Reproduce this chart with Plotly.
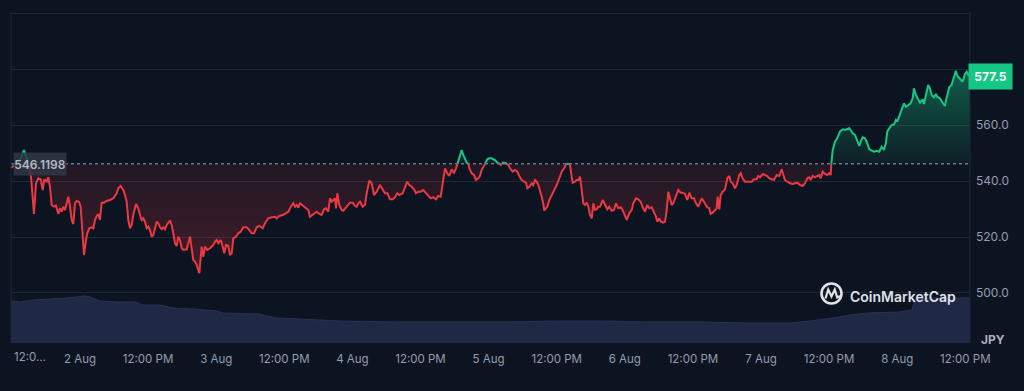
import numpy as np
import pandas as pd
import plotly.graph_objects as go

# ---------------- data ----------------
BASELINE = 546.1198
LAST_PRICE = 577.5
START = pd.Timestamp("2024-08-02 00:00")

# hours relative to 2 Aug 00:00
hours = [
 -12.16,-11.63,-10.57,-9.87,-9.34,-8.81,-8.63,-8.11,-7.75,-7.35,-6.93,-6.57,-6.29,-5.87,-5.59,-5.29,-4.99,-4.58,-4.23,-3.82,
 -3.52,-3.22,-2.94,-2.64,-2.34,-2.06,-1.76,-1.46,-1.18,-0.88,-0.58,-0.18,0.12,0.48,0.70,1.06,1.29,1.64,2.06,2.34,
 2.64,2.94,3.22,3.52,3.82,4.23,4.70,5.29,5.87,6.47,6.75,7.17,7.63,7.93,8.23,8.51,8.81,9.11,9.39,9.87,
 10.27,10.57,10.87,11.15,11.45,11.75,12.04,12.33,12.63,12.92,13.22,13.52,13.80,14.10,14.40,14.68,14.98,15.28,15.86,16.16,
 16.44,16.74,17.04,17.32,17.62,17.92,18.20,18.80,19.38,19.68,19.96,20.26,20.56,20.85,21.02,21.44,21.73,22.03,22.43,22.91,
 23.21,23.49,23.79,24.09,24.37,24.79,25.15,25.43,25.73,26.13,26.43,26.73,27.01,27.49,27.89,28.32,28.78,29.37,29.83,30.25,
 30.66,31.14,31.59,32.19,32.60,33.18,33.78,34.36,34.66,35.12,35.72,36.12,36.71,37.00,37.30,37.59,37.89,38.18,38.47,38.77,
 39.35,39.95,40.23,40.53,41.00,41.41,41.71,42.17,42.59,43.00,43.35,43.75,44.05,44.35,44.63,44.93,45.11,45.34,45.69,46.11,
 46.40,46.99,47.58,48.05,48.46,48.76,49.04,49.34,49.81,50.22,50.52,50.98,51.40,51.81,52.28,52.86,53.34,53.74,54.15,54.63,
 55.10,55.51,55.91,56.26,56.86,57.27,57.67,58.03,58.45,58.85,59.21,59.61,60.03,60.49,60.97,61.37,61.80,62.26,62.73,63.14,
 63.56,63.91,64.32,64.72,65.07,65.50,65.90,66.25,66.66,66.96,67.26,67.54,67.84,68.14,68.42,68.72,69.02,69.43,69.78,70.19,
 70.48,70.78,71.19,71.54,71.77,72.12,72.54,72.83,73.13,73.53,73.88,74.13,74.59,75.07,75.47,75.77,76.24,76.65,77.06,77.41,
 77.83,78.24,78.59,78.82,79.17,79.60,79.88,80.18,80.48,80.76,81.06,81.36,81.64,81.82,82.11,82.35,82.70,83.12,83.52,84.00,
 84.46,84.88,85.29,85.64,86.05,86.34,86.64,86.82,87.22,87.52,87.81,88.11,88.41,88.69,88.99,89.29,89.57,89.87,90.17,90.45,
 90.75,91.05,91.33,91.63,92.11,92.51,92.92,93.27,93.69,94.10,94.45,94.85,95.28,95.63,96.03,96.33,96.79,97.21,97.49,97.97,
 98.38,98.80,99.15,99.56,99.96,100.31,100.74,101.15,101.50,101.73,102.08,102.33,102.79,103.09,103.39,103.67,103.97,104.27,104.55,105.02,
 105.43,105.85,106.20,106.61,107.01,107.37,107.79,108.19,108.55,108.95,109.25,109.55,109.95,110.30,110.53,110.89,111.13,111.49,111.89,112.19,
 112.37,112.65,112.90,113.25,113.66,114.06,114.42,114.66,115.01,115.42,115.72,116.18,116.42,116.77,117.18,117.76,118.36,118.77,119.24,119.52,
 119.82,120.30,120.70,121.11,121.46,121.88,122.29,122.76,123.22,123.64,123.92,124.22,124.63,125.11,125.58,125.99,126.40,126.87,127.35,127.75,
 128.16,128.51,128.76,129.11,129.52,129.92,130.27,130.52,130.87,131.28,131.69,132.04,132.29,132.39,132.64,133.04,133.44,133.92,134.39,134.80,
 135.20,135.56,135.80,136.16,136.56,136.86,137.32,137.56,137.92,138.32,138.62,139.08,139.50,139.91,140.38,140.84,141.26,141.67,142.02,142.25,
 142.60,143.02,143.43,143.78,144.01,144.49,144.79,145.19,145.55,145.95,146.37,146.72,146.95,147.30,147.71,148.01,148.48,148.71,149.06,149.47,
 149.77,150.07,150.47,150.82,151.05,151.53,152.00,152.40,152.70,153.16,153.58,153.86,154.16,154.33,154.63,155.04,155.51,155.95,156.25,156.53,
 156.83,
]

price = [
 544.64,545.36,547.50,551.07,548.21,543.93,541.43,528.21,539.18,540.96,540.61,536.79,540.61,539.75,541.32,537.96,531.43,530.82,531.18,528.21,
 530.25,529.04,530.82,529.64,532.04,534.39,530.82,526.07,524.64,532.04,532.86,532.61,530.82,521.32,513.57,518.93,521.32,523.11,523.46,523.11,
 526.07,527.50,528.21,526.07,532.25,532.25,532.86,533.21,533.82,535.61,537.39,538.21,536.79,535.00,532.61,526.07,523.11,524.29,527.86,531.79,
 530.25,527.86,526.07,526.68,525.46,523.11,523.68,522.50,520.11,520.71,523.11,525.46,524.89,523.46,522.75,523.46,522.75,524.29,525.82,524.29,
 521.32,517.75,516.79,520.11,518.93,515.96,515.36,515.61,520.11,515.36,511.82,511.25,510.04,508.21,507.04,516.54,512.96,516.54,515.36,515.96,
 516.54,517.14,518.32,518.93,517.75,518.93,516.54,514.18,517.14,516.79,513.57,514.18,519.54,520.11,521.32,521.89,523.46,523.46,522.50,521.32,
 521.32,523.46,523.93,523.11,524.89,526.68,527.04,527.25,526.68,527.50,527.86,528.46,529.04,530.25,531.43,532.04,530.82,531.43,530.46,532.04,
 531.07,530.25,529.64,527.25,527.86,528.46,529.04,528.21,527.86,529.89,530.25,529.04,533.82,532.61,533.21,533.82,530.25,535.61,531.43,529.64,
 529.39,530.82,532.25,532.25,531.07,530.82,532.04,532.61,530.82,531.43,535.61,540.11,539.18,535.00,536.18,538.57,536.79,535.61,535.61,533.46,
 533.46,534.18,535.61,535.00,535.61,537.96,539.75,538.57,537.96,537.02,535.61,536.18,536.18,536.79,535.82,534.64,533.82,534.18,533.46,534.64,
 534.39,539.18,544.54,542.75,541.79,544.18,542.75,544.54,546.93,548.71,551.07,549.29,547.50,546.54,546.07,543.93,542.75,542.14,540.36,540.96,
 541.79,543.93,545.11,546.93,547.75,548.11,548.11,547.75,547.50,546.54,546.32,545.71,546.54,546.32,545.71,544.54,543.32,543.93,543.32,541.79,
 540.36,539.75,539.39,537.39,537.96,539.18,538.57,540.36,539.75,538.57,536.79,534.39,531.79,529.39,530.25,530.82,533.21,535.00,536.18,538.57,
 540.96,543.32,544.54,546.07,546.32,545.71,541.54,539.39,539.75,540.36,540.36,541.54,536.79,532.04,531.43,532.25,530.82,527.86,526.68,532.04,
 529.64,529.89,530.82,530.82,533.21,531.43,529.89,530.82,529.39,529.64,532.04,530.25,530.61,529.64,527.86,526.07,528.46,529.64,532.04,533.82,
 533.46,532.61,530.61,529.04,531.43,530.25,530.61,529.04,527.25,525.46,526.68,525.46,525.11,525.46,529.64,536.18,533.21,531.43,532.04,534.39,
 536.79,535.82,535.82,535.36,533.21,535.82,533.82,533.82,532.04,530.82,532.25,533.82,532.61,531.43,530.61,530.25,528.21,528.68,529.64,530.25,
 534.39,529.89,535.00,536.18,537.02,540.96,541.79,539.75,539.18,537.39,538.57,542.14,542.75,540.96,539.75,539.75,539.75,540.61,540.61,541.79,
 541.32,542.50,542.14,541.79,540.96,540.61,540.36,542.14,541.79,544.18,542.14,540.36,539.75,539.18,538.93,539.18,539.39,538.57,538.21,539.18,
 540.96,541.32,540.36,541.79,541.32,541.79,542.14,540.96,543.32,542.50,542.14,542.75,542.14,546.07,551.07,554.04,555.25,557.61,558.46,558.21,
 558.46,558.82,558.21,557.04,556.43,554.89,552.50,554.04,555.61,555.25,554.04,551.32,550.82,550.46,550.82,550.46,552.25,551.07,553.68,557.61,
 558.82,560.00,560.25,561.79,561.18,563.93,565.61,567.75,566.54,567.14,567.75,569.54,573.11,570.71,568.93,567.96,569.18,567.50,570.71,574.29,
 573.11,570.71,569.89,571.07,570.11,569.54,567.96,566.79,569.54,573.46,574.29,576.32,577.86,579.39,577.50,576.68,575.46,578.21,579.04,577.86,
 577.50,
]

# relative volume (arbitrary units), hours relative to 2 Aug 00:00
vol_hours = [-12.16,-10.57,-8.28,-2.29,0.88,1.76,3.52,6.52,9.69,11.10,14.10,16.39,19.91,24.14,25.20,31.72,32.95,34.71,38.77,
             45.81,56.39,65.20,74.01,84.58,91.63,100.44,109.25,118.06,125.11,128.63,132.69,135.68,138.68,144.49,146.60,147.13,149.77,156.83]
vol_value = [42,41,43,45,47,46,42,41,41,38,38,35,34,32,30,29,27,25,24,
             22,21,21,21,22,22,21,21,20,20,22,25,28,30,31,33,44,45,45]

tick_hours = [0,12,24,36,48,60,72,84,96,108,120,132,144,156]
tick_text = ["2 Aug","12:00 PM","3 Aug","12:00 PM","4 Aug","12:00 PM","5 Aug","12:00 PM",
             "6 Aug","12:00 PM","7 Aug","12:00 PM","8 Aug","12:00 PM"]
y_ticks = [500,520,540,560,580,600]
y_tick_text = ["500.0","520.0","540.0","560.0","",""]

# ---------------- derived ----------------
RED = "#ea3943"
GREEN = "#16c784"
BG = "#0d1421"
GRID = "#1f2634"
TXT = "#959db0"

h = np.array(hours, float)
p = np.array(price, float)
xs, ys = [h[0]], [p[0]]
for i in range(1, len(h)):
    a, b = p[i-1], p[i]
    if (a - BASELINE) * (b - BASELINE) < 0:
        f = (BASELINE - a) / (b - a)
        xs.append(h[i-1] + f * (h[i] - h[i-1]))
        ys.append(BASELINE)
    xs.append(h[i]); ys.append(b)
xs = np.array(xs); ys = np.array(ys)
t = START + pd.to_timedelta(xs, unit="h")
y_up = np.maximum(ys, BASELINE)
y_dn = np.minimum(ys, BASELINE)
line_up = np.where(ys >= BASELINE, ys, np.nan)
line_dn = np.where(ys <= BASELINE, ys, np.nan)
base_arr = np.full(len(xs), BASELINE)

vt = START + pd.to_timedelta(np.array(vol_hours), unit="h")
x_left = START + pd.Timedelta(hours=-12.158)
x_right = START + pd.Timedelta(hours=156.83)

fig = go.Figure()
# volume
fig.add_trace(go.Scatter(x=vt, y=vol_value, yaxis="y2", mode="lines", fill="tozeroy",
                         line=dict(color="#283251", width=1), fillcolor="#1f2845", hoverinfo="skip"))
# green fill
fig.add_trace(go.Scatter(x=t, y=base_arr, mode="lines", line=dict(width=0), hoverinfo="skip"))
fig.add_trace(go.Scatter(x=t, y=y_up, mode="lines", line=dict(width=0), fill="tonexty",
                         fillgradient=dict(type="vertical",
                                           colorscale=[[0, "rgba(22,199,132,0.06)"], [1, "rgba(22,199,132,0.40)"]]),
                         hoverinfo="skip"))
# red fill
fig.add_trace(go.Scatter(x=t, y=base_arr, mode="lines", line=dict(width=0), hoverinfo="skip"))
fig.add_trace(go.Scatter(x=t, y=y_dn, mode="lines", line=dict(width=0), fill="tonexty",
                         fillgradient=dict(type="vertical",
                                           colorscale=[[0, "rgba(234,57,67,0.24)"], [1, "rgba(234,57,67,0.09)"]]),
                         hoverinfo="skip"))
# lines
fig.add_trace(go.Scatter(x=t, y=line_dn, mode="lines", line=dict(color=RED, width=2), connectgaps=False))
fig.add_trace(go.Scatter(x=t, y=line_up, mode="lines", line=dict(color=GREEN, width=2), connectgaps=False))

def px_x(px):
    return (px - 11) / 959.0

def px_y(py):
    return (343 - py) / 331.0

shapes = [
    dict(type="line", xref="paper", yref="y", x0=0, x1=1, y0=BASELINE, y1=BASELINE,
         line=dict(color="#6f7584", width=1.5, dash="dot"), layer="above"),
    dict(type="line", xref="paper", yref="paper", x0=0, x1=0, y0=0, y1=1, line=dict(color=GRID, width=1)),
    dict(type="line", xref="paper", yref="paper", x0=1, x1=1, y0=0, y1=1, line=dict(color=GRID, width=1)),
    # logo
    dict(type="circle", xref="paper", yref="paper", x0=px_x(821.5), x1=px_x(841.5), y0=px_y(303.5), y1=px_y(283.5),
         line=dict(color="#dfe2e8", width=2.6), layer="above"),
    dict(type="path", xref="paper", yref="paper", layer="above",
         path=f"M {px_x(825.5)},{px_y(298.5)} L {px_x(828.2)},{px_y(289.5)} L {px_x(831.5)},{px_y(296.5)} "
              f"L {px_x(834.8)},{px_y(289.5)} L {px_x(837.2)},{px_y(297.5)} L {px_x(840)},{px_y(296)}",
         line=dict(color="#dfe2e8", width=2.2)),
]

annotations = [
    dict(text="546.1198", xref="paper", yref="y", x=px_x(40), y=BASELINE, showarrow=False,
         font=dict(family="Inter", size=12, color="#b3b8c3", weight=600),
         bgcolor="rgba(48,54,68,0.85)", width=52, height=22, borderpad=0, xanchor="center", yanchor="middle"),
    dict(text="577.5", xref="paper", yref="y", x=px_x(990.5), y=LAST_PRICE, showarrow=False,
         font=dict(family="Inter", size=12, color="#ffffff", weight=700),
         bgcolor=GREEN, width=43, height=25, borderpad=0, xanchor="center", yanchor="middle"),
    dict(text="JPY", xref="paper", yref="paper", x=px_x(993), y=px_y(339.5), showarrow=False,
         font=dict(family="Inter", size=12, color="#a8afbf", weight=700), xanchor="center", yanchor="middle"),
    dict(text="12:0...", xref="paper", yref="paper", x=px_x(29.5), y=px_y(357.5), showarrow=False,
         font=dict(family="Inter", size=11.5, color=TXT), xanchor="center", yanchor="middle"),
    dict(text="CoinMarketCap", xref="paper", yref="paper", x=px_x(902.5), y=px_y(296), showarrow=False,
         font=dict(family="Inter", size=14, color="#dfe2e8", weight=600), xanchor="center", yanchor="middle"),
]

fig.update_layout(
    width=1024, height=391,
    margin=dict(l=11, r=54, t=12, b=48),
    paper_bgcolor=BG, plot_bgcolor=BG,
    showlegend=False,
    xaxis=dict(range=[x_left, x_right], tickvals=[START + pd.Timedelta(hours=v) for v in tick_hours],
               ticktext=tick_text, showgrid=False, zeroline=False, showline=False, ticks="",
               tickfont=dict(family="Inter", size=11.5, color=TXT), ticklabelstandoff=7),
    yaxis=dict(range=[482.14, 600.36], side="right", tickvals=y_ticks, ticktext=y_tick_text,
               showgrid=True, gridcolor=GRID, gridwidth=1, zeroline=False, showline=False, ticks="",
               tickfont=dict(family="Inter", size=12, color=TXT), ticklabelstandoff=5),
    yaxis2=dict(overlaying="y", range=[0, 331], visible=False),
    shapes=shapes, annotations=annotations,
)

fig.write_html("out.html", config={"displayModeBar": False},
               post_script="document.body.style.margin='0';document.body.style.background='#0d1421';")
